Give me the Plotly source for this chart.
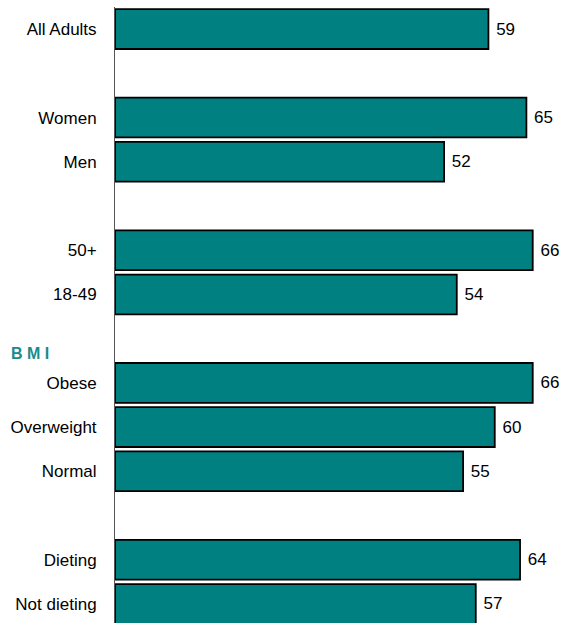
import plotly.graph_objects as go

categories = ["All Adults", "Women", "Men", "50+", "18-49", "Obese", "Overweight", "Normal", "Dieting", "Not dieting"]
values = [59, 65, 52, 66, 54, 66, 60, 55, 64, 57]
slots = [0, 2, 3, 5, 6, 8, 9, 10, 12, 13]
group_label = "B M I"

fig = go.Figure(go.Bar(
    x=values, y=slots, orientation="h", width=0.9,
    marker=dict(color="#008080", line=dict(color="black", width=1.8)),
    text=["\u00a0" + str(v) for v in values], textposition="outside",
    textfont=dict(size=17, color="black", family="Liberation Sans, Arial"),
    cliponaxis=False,
))

fig.update_layout(
    width=565, height=623,
    margin=dict(l=115, r=0, t=7, b=0),
    plot_bgcolor="white", paper_bgcolor="white",
    showlegend=False,
    font=dict(family="Liberation Sans, Arial", size=17, color="black"),
    xaxis=dict(range=[0, 71.1], visible=False, showgrid=False, zeroline=False),
    yaxis=dict(range=[13.43, -0.5], tickvals=slots, ticktext=categories,
               showline=True, linecolor="#555", linewidth=1,
               showgrid=False, zeroline=False, ticks="",
               ticklabelstandoff=14,
               tickfont=dict(size=17, color="black")),
    annotations=[dict(text="<b>" + group_label + "</b>", xref="paper", yref="y",
                      x=-0.235, y=7.33, xanchor="left", yanchor="middle",
                      showarrow=False,
                      font=dict(size=16, color="#1a8c8c", family="Liberation Sans, Arial"))],
)

fig.write_html("out.html")
